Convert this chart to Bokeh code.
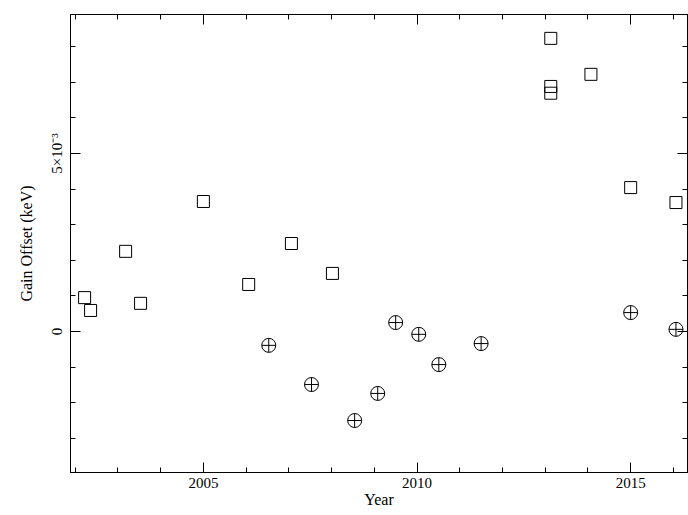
import numpy as np
from math import pi
from bokeh.plotting import figure
from bokeh.models import Range1d, LinearAxis, FixedTicker
from bokeh.embed import file_html
from bokeh.resources import INLINE

# gain offsets in units of 1e-3 keV
sq_year = [2002.22, 2002.36, 2003.18, 2003.53, 2005.0, 2006.06, 2007.06, 2008.02,
           2013.13, 2013.13, 2013.13, 2014.07, 2015.0, 2016.06]
sq_off = [0.95, 0.59, 2.25, 0.79, 3.65, 1.32, 2.47, 1.63, 8.23, 6.88, 6.69, 7.22, 4.04, 3.62]
ci_year = [2006.53, 2007.53, 2008.54, 2009.08, 2009.5, 2010.04, 2010.51, 2011.5, 2015.0, 2016.06]
ci_off = [-0.39, -1.49, -2.5, -1.74, 0.25, -0.08, -0.93, -0.34, 0.53, 0.06]

FONT = "Liberation Serif"

p = figure(width=688, height=515, output_backend="svg", toolbar_location=None,
           min_border_left=70, min_border_right=1, min_border_top=14, min_border_bottom=43)
p.x_range = Range1d(2001.89, 2016.33)
p.y_range = Range1d(-3.96, 8.9)

p.scatter(sq_year, sq_off, marker="square", size=12, fill_alpha=0, line_color="black", line_width=1)
p.scatter(ci_year, ci_off, marker="circle_cross", size=14, fill_alpha=0, line_color="black", line_width=1)

p.grid.visible = False
p.outline_line_color = "black"

xt = FixedTicker(ticks=[2005, 2010, 2015], minor_ticks=list(range(2002, 2017)))
yt = FixedTicker(ticks=[0, 5], minor_ticks=list(range(-3, 9)))

def style(ax):
    ax.major_tick_in = 10
    ax.major_tick_out = 0
    ax.minor_tick_in = 5
    ax.minor_tick_out = 0
    ax.axis_line_color = "black"
    ax.major_label_text_font = FONT
    ax.major_label_text_font_size = "15px"
    ax.major_label_text_color = "black"
    ax.axis_label_text_font = FONT
    ax.axis_label_text_font_size = "16px"
    ax.axis_label_text_font_style = "normal"
    ax.axis_label_text_color = "black"

p.xaxis.ticker = xt
p.yaxis.ticker = yt
p.xaxis.axis_label = "Year"
p.yaxis.axis_label = "Gain Offset (keV)"
p.xaxis.axis_label_standoff = 0
p.yaxis.axis_label_standoff = 12
p.yaxis.major_label_orientation = "vertical"
p.yaxis.major_label_overrides = {0: "0", 5: "5×10⁻³"}
style(p.xaxis[0])
style(p.yaxis[0])

top = LinearAxis(ticker=xt, major_label_overrides={2005: "", 2010: "", 2015: ""})
right = LinearAxis(ticker=yt, major_label_overrides={0: "", 5: ""})
style(top)
style(right)
p.add_layout(top, "above")
p.add_layout(right, "right")

open("out.html", "w").write(file_html(p, INLINE))
